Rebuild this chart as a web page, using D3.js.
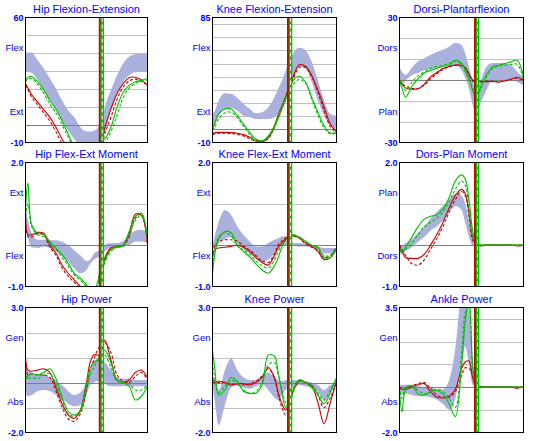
<!DOCTYPE html>
<html><head><meta charset="utf-8">
<script src="https://cdn.jsdelivr.net/npm/d3@7"></script>
<style>body{margin:0;background:#fff}svg{display:block}</style>
</head><body><svg id="c" width="537" height="441"></svg>
<script>
// ---- data: % gait cycle sample points ----
const pct = [0,2,5,10,15,20,25,30,35,40,45,50,53,56,59,62,65,70,75,80,85,90,95,100];
const redToeOff = 60.9;
const greenToeOff = 62.9;

const titles = ["Hip Flexion-Extension","Knee Flexion-Extension","Dorsi-Plantarflexion",
  "Hip Flex-Ext Moment","Knee Flex-Ext Moment","Dors-Plan Moment",
  "Hip Power","Knee Power","Ankle Power"];
const domains = [[-10,60],[-10,85],[-30,30],[-1,2],[-1,2],[-1,2],[-2,3],[-2,3],[-2,3.5]];
const tickLabels = [["-10","60"],["-10","85"],["-30","30"],["-1.0","2.0"],["-1.0","2.0"],["-1.0","2.0"],["-2.0","3.0"],["-2.0","3.0"],["-2.0","3.5"]];
const upperLabels = ["Flex","Flex","Dors","Ext","Ext","Plan","Gen","Gen","Gen"];
const lowerLabels = ["Ext","Ext","Plan","Flex","Flex","Dors","Abs","Abs","Abs"];
const gridValues = [[0,10,20,30,40,50],[0,10,20,30,40,50,60,70,80],[-20,-10,0,10,20],[0,1],[0,1],[0,1],[-1,0,1,2],[-1,0,1,2],[-1,0,1,2,3]];

// Hip flexion-extension (deg)
const hipFlexHi = [40.4,40.4,40.4,36,31.4,25.8,20.1,13.5,7.9,4.1,-1.5,-3.8,-3.8,-3.4,-2,1.3,9.8,19.2,27.6,34.2,38,39.5,39.9,39.9];
const hipFlexLo = [29.9,29.5,29,24.8,19.2,13.5,7.9,2.2,-3.4,-8,-12,-12,-12,-12,-12,-11,-4,7.9,17.3,23.9,27.6,29.3,29.5,29.5];
const hipFlexRed1 = [23,20.5,16.9,12.6,8.4,4.1,-1.5,-8,-13,-16,-17,-17,-16,-15,-14,-11,-2,8.8,17.3,23,26.3,26.5,25,22];
const hipFlexRed2 = [22,19.5,15.5,11,6.5,2,-4,-10.5,-14,-17,-18,-18,-17,-16,-15,-13,-5,4,14,21,24.5,25.5,24,22.5];
const hipFlexGreen1 = [24.8,26.5,27,23.9,19.5,13.5,8.8,2.2,-5.3,-12,-15,-16,-15,-14,-12,-9,-8,-1.5,9.8,18,22,24,24.8,25.8];
const hipFlexGreen2 = [24,25.5,26,22.5,17.5,11.5,6.5,0,-7,-13,-16,-17,-16,-15,-13,-11,-10,-4,5,15,20.5,23,24.5,25];

// Knee flexion-extension (deg)
const kneeFlexHi = [11.7,14.3,21.9,27.5,27,24,19.4,15.5,12.2,13,16.8,24.5,30.9,37.2,44.9,51.3,57.7,62,60.2,51.3,37.2,21.9,11.7,10.4];
const kneeFlexLo = [0.2,4,10.4,15.5,16.3,14.3,10.4,9.2,7.9,7.9,7.9,9.2,11.7,16.8,23.2,30.9,39.8,47.5,46.2,36,21.9,10.4,2.8,0.2];
const kneeFlexRed1 = [-3.6,-2.5,-2.3,-2.3,-2.5,-3,-4,-6,-8.5,-9,-6.5,3,11,18,25,33,40,49,48,41,30,17,4,-2];
const kneeFlexRed2 = [-4,-3.5,-3,-3,-3.2,-3.8,-5,-7,-9,-9.5,-7,2,9,16,23,31,38,47,47,40,28,14,2,-3];
const kneeFlexGreen1 = [0.2,5,11.7,15.5,15.5,10.4,4,-2.3,-7.4,-8.7,-4.9,2.8,10,17,24,30,37,40.3,36,24.5,13,2.8,-2.8,-2.5];
const kneeFlexGreen2 = [-1,2,8,12.5,13,9,2.5,-4,-9,-10,-6,1,8,15,22,28,34,38,35,23,11,1,-3.5,-3];

// Dorsi-plantarflexion (deg)
const dorsiHi = [6.3,4,2.5,6,9,10.5,12,13.5,14.5,16,17.9,16.8,12.7,6.3,-0.2,-5,-1,6.3,8.2,8.2,8,7.1,3.9,1.5];
const dorsiLo = [-2.6,-2,-0.2,2.3,3.5,4.7,5,5.5,6.5,7.1,7.1,4.7,1,-4,-12,-17,-12,-5,-0.2,-0.2,-0.2,0.6,-1,-2.6];
const dorsiRed1 = [-0.2,-2,-3.9,-4.4,-4.2,-2,1.5,3.5,5.5,6.5,7.2,7,6,3,0,-1,-0.8,-0.8,-0.6,-1,-0.5,0.5,1.2,0];
const dorsiRed2 = [0,-1.5,-3,-4,-4,-2.5,0.5,3,5,6.2,7,6.8,5.5,2.5,-0.5,-1.5,-1,-0.5,-0.8,-0.8,-0.3,0.3,1,-0.3];
const dorsiGreen1 = [-0.2,-4,-8.2,-3,0.6,3.4,4.5,5.5,6.5,7.1,9.5,8,5,1,-5,-9,-4.2,2.3,6.3,7.1,7.9,8.7,9.5,1.5];
const dorsiGreen2 = [0,-2,-5,-1,2,4,5.5,6.5,7,8,9,7.5,4,0,-4,-8,-5,1.5,5.5,6.5,7,7.5,7.5,0.5];

// Hip flex-ext moment
const hipMomHi = [0.9,0.6,0.3,0.13,0.13,0.12,0.12,0.08,0,-0.12,-0.25,-0.38,-0.35,-0.2,-0.15,-0.1,0,0.05,0.05,0.1,0.25,0.35,0.37,0.3];
const hipMomLo = [0.5,0.2,-0.05,-0.07,-0.03,-0.07,-0.15,-0.27,-0.4,-0.56,-0.68,-0.6,-0.45,-0.35,-0.3,-0.25,-0.15,-0.07,-0.07,-0.03,0,0.09,0.09,0.05];
const hipMomRed1 = [0.8,0.25,0.25,0.31,0.29,0,-0.19,-0.48,-0.68,-0.84,-1.0,-1.15,-1.2,-1.2,-1.1,-0.8,-0.31,-0.07,-0.03,0,0.29,0.75,0.72,0.05];
const hipMomRed2 = [0.6,0.2,0.2,0.28,0.25,-0.05,-0.25,-0.55,-0.75,-0.9,-1.05,-1.2,-1.25,-1.25,-1.15,-0.9,-0.4,-0.1,-0.05,-0.02,0.2,0.65,0.75,0.0];
const hipMomGreen1 = [0.9,1.5,0.5,0.29,0.25,0.09,-0.07,-0.23,-0.44,-0.68,-0.8,-0.96,-1.1,-1.1,-0.9,-0.5,-0.35,-0.1,-0.03,0,0.33,0.69,0.77,0.17];
const hipMomGreen2 = [0.7,1.0,0.45,0.25,0.2,0.05,-0.1,-0.3,-0.5,-0.72,-0.85,-1.0,-1.15,-1.15,-1.0,-0.6,-0.4,-0.15,-0.05,-0.02,0.25,0.6,0.72,0.2];

// Knee flex-ext moment
const kneeMomHi = [0.0,0.25,0.57,0.85,0.73,0.45,0.25,0.09,-0.03,-0.03,0.05,0.13,0.17,0.21,0.21,0.13,0.05,0.05,0.03,0,-0.03,-0.07,-0.07,-0.07];
const kneeMomLo = [0,-0.1,0.05,0.15,0.2,0.05,-0.1,-0.2,-0.32,-0.4,-0.35,-0.2,-0.1,-0.02,0,0,-0.02,-0.03,-0.03,-0.05,-0.1,-0.2,-0.2,-0.15];
const kneeMomRed1 = [-0.3,-0.1,-0.07,-0.05,-0.03,0,-0.05,-0.15,-0.3,-0.42,-0.48,-0.25,-0.05,0.05,0.15,0.2,0.25,0.17,0.05,-0.03,-0.15,-0.35,-0.3,-0.07];
const kneeMomRed2 = [-0.2,0,0.08,0.13,0.13,0.1,-0.02,-0.12,-0.25,-0.38,-0.42,-0.2,0,0.1,0.18,0.22,0.22,0.17,0.03,-0.05,-0.12,-0.3,-0.25,-0.05];
const kneeMomGreen1 = [-0.7,-0.2,0.15,0.33,0.3,0,-0.15,-0.28,-0.45,-0.6,-0.68,-0.5,-0.3,-0.05,0.12,0.2,0.25,0.2,0.1,0,-0.05,-0.3,-0.3,-0.1];
const kneeMomGreen2 = [-0.5,-0.1,0.2,0.3,0.22,-0.02,-0.12,-0.22,-0.38,-0.5,-0.55,-0.35,-0.15,0,0.12,0.18,0.22,0.18,0.08,0,-0.08,-0.25,-0.25,-0.05];

// Dorsi-plantar moment
const dpMomHi = [0,-0.02,0.05,0.15,0.3,0.45,0.65,0.8,0.95,1.1,1.25,1.2,1.0,0.6,0.15,0.02,0.01,0.01,0.01,0.01,0.01,0.01,0.01,0.01];
const dpMomLo = [-0.2,-0.22,-0.15,-0.05,0.08,0.2,0.35,0.45,0.6,0.8,0.95,0.85,0.55,0.2,0,-0.02,-0.01,-0.01,-0.01,-0.01,-0.01,-0.01,-0.01,-0.01];
const dpMomRed1 = [0,-0.15,-0.3,-0.32,-0.32,-0.22,0,0.25,0.55,0.9,1.2,1.35,1.25,0.8,0.2,0,-0.02,0,0,0,0,0,-0.02,0];
const dpMomRed2 = [0,-0.1,-0.25,-0.45,-0.48,-0.35,-0.1,0.15,0.45,0.8,1.1,1.3,1.2,0.7,0.12,0,0,0,0,0,0,0,0,0];
const dpMomGreen1 = [-0.05,-0.15,-0.05,0.2,0.45,0.63,0.7,0.73,0.87,1.15,1.55,1.7,1.6,1.1,0.35,0,0,0,0,0,0,0,0,0];
const dpMomGreen2 = [-0.1,-0.2,-0.1,0.05,0.25,0.45,0.55,0.65,0.8,1.05,1.35,1.55,1.45,0.9,0.2,0,0,0,0,0,0,0,0,0];

// Hip power
const hipPowHi = [0.5,0.5,0.4,0.3,0.3,0.2,0.05,-0.1,-0.35,-0.5,-0.4,0.0,0.4,0.8,0.95,0.9,0.8,0.5,0.2,0.15,0.15,0.1,0.1,0.1];
const hipPowLo = [-0.4,-0.55,-0.5,-0.35,-0.3,-0.35,-0.5,-0.65,-0.85,-0.95,-0.9,-0.5,-0.1,0.0,0.05,0.05,-0.05,-0.15,-0.15,-0.15,-0.15,-0.15,-0.15,-0.15];
const hipPowRed1 = [1.0,0.5,0.45,0.5,0.55,0.4,-0.2,-0.85,-1.3,-1.43,-1.1,0,0.8,1.1,1.1,1.0,1.7,0.9,0.1,0,0.1,0.4,0.5,0.2];
const hipPowRed2 = [0.8,0.3,0.35,0.3,0.3,0.2,-0.35,-1.0,-1.45,-1.55,-1.25,-0.3,0.5,0.9,1.3,1.5,1.6,1.2,0.3,0.05,0,0.25,0.4,0.1];
const hipPowGreen1 = [0.1,0.25,0.35,0.3,0.4,0.55,0.15,-0.6,-1.15,-1.3,-1.1,-0.1,0.55,0.8,0.9,1.15,1.3,0.8,0.1,0,-0.15,-0.7,-0.55,-0.15];
const hipPowGreen2 = [0.3,0.15,0.2,0.15,0.3,0.35,-0.05,-0.7,-1.25,-1.35,-1.15,-0.3,0.3,0.6,0.85,1.0,1.1,0.6,0.05,0,-0.05,-0.3,-0.3,-0.1];

// Knee power
const kneePowHi = [0.3,0.1,-0.3,0.5,0.95,0.5,0.2,0.1,0.1,0.3,0.4,0.2,0.1,0.05,0.1,0.1,0.1,0.1,0.05,0,-0.1,-0.3,-0.1,0];
const kneePowLo = [-0.1,-0.8,-1.7,-0.9,-0.2,-0.1,-0.2,-0.25,-0.15,-0.05,-0.3,-0.6,-0.7,-0.5,-0.3,-0.2,-0.2,-0.1,-0.15,-0.2,-0.35,-0.7,-0.4,-0.1];
const kneePowRed1 = [0,0,0.05,0,-0.1,-0.05,-0.05,-0.1,0,0.2,0.6,0.2,-0.4,-0.85,-1.1,-0.8,-0.35,0.05,0,-0.15,-0.8,-1.65,-0.8,0.05];
const kneePowRed2 = [0.1,0.05,0,0,-0.05,-0.1,-0.1,-0.05,0.05,0.25,0.55,0.15,-0.5,-1.0,-1.3,-1.0,-0.3,0.1,0,-0.1,-0.5,-1.0,-0.6,0];
const kneePowGreen1 = [1.3,0.5,-0.5,-0.3,0.2,0.05,-0.35,-0.43,-0.43,-0.1,1.1,1.05,0.4,-0.4,-1.0,-0.7,-0.3,0.1,0,-0.2,-0.5,-0.85,-0.4,0.2];
const kneePowGreen2 = [0.8,0.1,-0.4,-0.15,0.1,-0.05,-0.3,-0.45,-0.35,0.0,0.7,0.8,0.3,-0.3,-0.8,-0.9,-0.4,0.05,0,-0.1,-0.4,-0.7,-0.3,0.15];

// Ankle power
const ankPowHi = [0.1,0.1,0.1,0.1,0.05,0,0,-0.1,-0.1,0.3,1.7,4.0,4.0,3.6,1.0,0.02,0.02,0.02,0.02,0.02,0.02,0.02,0.02,0.02];
const ankPowLo = [-0.2,-0.3,-0.3,-0.35,-0.4,-0.4,-0.45,-0.55,-0.75,-1.0,-0.5,1.0,1.8,1.0,0.1,-0.02,-0.02,-0.02,-0.02,-0.02,-0.02,-0.02,-0.02,-0.02];
const ankPowRed1 = [-0.05,-0.1,-0.1,0,0.1,0.15,-0.2,-0.45,-0.48,-0.4,-0.1,0.8,1.1,1.15,0.4,0,0.02,0,0,0,0,0,-0.05,0];
const ankPowRed2 = [0,-0.05,-0.05,0.05,0.15,0.2,-0.05,-0.35,-0.45,-0.45,-0.2,0.5,0.85,0.8,0.7,0,0,0,0,0,0,0,0,0];
const ankPowGreen1 = [-0.1,-1.1,-0.1,0.05,-0.3,-0.35,-0.2,-0.15,-0.3,-0.75,-1.3,0.9,2.9,3.9,1.0,-0.05,0,0,0,0,0,0,0,0];
const ankPowGreen2 = [0,-0.5,0,0.05,-0.15,-0.3,-0.25,-0.1,-0.2,-0.5,-0.9,1.4,3.3,3.7,0.8,0,0,0,0,0,0,0,0,0];

// table built from the arrays above
const bandsLo = [hipFlexLo,kneeFlexLo,dorsiLo,hipMomLo,kneeMomLo,dpMomLo,hipPowLo,kneePowLo,ankPowLo];
const bandsHi = [hipFlexHi,kneeFlexHi,dorsiHi,hipMomHi,kneeMomHi,dpMomHi,hipPowHi,kneePowHi,ankPowHi];
const reds = [[hipFlexRed1,hipFlexRed2],[kneeFlexRed1,kneeFlexRed2],[dorsiRed1,dorsiRed2],[hipMomRed1,hipMomRed2],[kneeMomRed1,kneeMomRed2],[dpMomRed1,dpMomRed2],[hipPowRed1,hipPowRed2],[kneePowRed1,kneePowRed2],[ankPowRed1,ankPowRed2]];
const greens = [[hipFlexGreen1,hipFlexGreen2],[kneeFlexGreen1,kneeFlexGreen2],[dorsiGreen1,dorsiGreen2],[hipMomGreen1,hipMomGreen2],[kneeMomGreen1,kneeMomGreen2],[dpMomGreen1,dpMomGreen2],[hipPowGreen1,hipPowGreen2],[kneePowGreen1,kneePowGreen2],[ankPowGreen1,ankPowGreen2]];

// ---- layout ----
const colX = [[25.5,147.5],[212.5,336.5],[399.5,523.5]];
const rowY = [[17.5,142.5],[162.5,286.5],[307.5,432.5]];
const BLUE = "#0000ff", RED = "#c80000", GREEN = "#00c000", BAND = "#aab1dc";
const FONT = "'Liberation Sans', Arial, sans-serif";

const svg = d3.select("#c");
const defs = svg.append("defs");

titles.forEach((title, i) => {
  const [x0, x1] = colX[i % 3];
  const [y0, y1] = rowY[Math.floor(i / 3)];
  const x = d3.scaleLinear().domain([0, 100]).range([x0, x1]);
  const y = d3.scaleLinear().domain(domains[i]).range([y1, y0]);
  const g = svg.append("g");

  defs.append("clipPath").attr("id", "clip" + i)
    .append("rect").attr("x", x0).attr("y", y0).attr("width", x1 - x0).attr("height", y1 - y0);
  const inner = g.append("g").attr("clip-path", `url(#clip${i})`);

  // light gridlines
  inner.selectAll("line.grid").data(gridValues[i].filter(v => v !== 0)).join("line")
    .attr("x1", x0).attr("x2", x1)
    .attr("y1", d => Math.round(y(d)) + 0.5).attr("y2", d => Math.round(y(d)) + 0.5)
    .attr("stroke", "#c0c0c0").attr("stroke-width", 1);

  // normal band
  const bandData = pct.map((p, j) => ({ p, lo: bandsLo[i][j], hi: bandsHi[i][j] }));
  inner.append("path").datum(bandData)
    .attr("d", d3.area().x(d => x(d.p)).y0(d => y(d.lo)).y1(d => y(d.hi)).curve(d3.curveMonotoneX))
    .attr("fill", BAND);

  // zero line
  inner.append("line").attr("x1", x0).attr("x2", x1)
    .attr("y1", Math.round(y(0)) + 0.5).attr("y2", Math.round(y(0)) + 0.5)
    .attr("stroke", "#808080").attr("stroke-width", 1);

  const line = d3.line().x(d => x(d.p)).y(d => y(d.v)).curve(d3.curveCatmullRom.alpha(0.5));
  const series = [
    { vals: reds[i][0], color: RED, dash: null },
    { vals: reds[i][1], color: RED, dash: "3,2" },
    { vals: greens[i][0], color: GREEN, dash: null },
    { vals: greens[i][1], color: GREEN, dash: "3,2" }
  ];
  series.forEach(s => {
    inner.append("path").datum(pct.map((p, j) => ({ p, v: s.vals[j] })))
      .attr("d", line).attr("fill", "none")
      .attr("stroke", s.color).attr("stroke-width", 1.1)
      .attr("stroke-dasharray", s.dash);
  });

  // toe-off markers
  inner.append("line").attr("x1", x(redToeOff)).attr("x2", x(redToeOff))
    .attr("y1", y0).attr("y2", y1).attr("stroke", RED).attr("stroke-width", 2);
  inner.append("rect").attr("x", x(greenToeOff) - 1.75).attr("width", 3.5)
    .attr("y", y0).attr("height", y1 - y0).attr("fill", GREEN);
  inner.append("line").attr("x1", x(greenToeOff)).attr("x2", x(greenToeOff))
    .attr("y1", y0).attr("y2", y1).attr("stroke", "#fff").attr("stroke-width", 1)
    .attr("stroke-dasharray", "4,3");

  // box
  g.append("rect").attr("x", x0).attr("y", y0).attr("width", x1 - x0).attr("height", y1 - y0)
    .attr("fill", "none").attr("stroke", "#000").attr("stroke-width", 1);

  // axis: top and bottom values
  const ax = g.append("g").attr("transform", `translate(${x0},0)`)
    .call(d3.axisLeft(y).tickValues(domains[i]).tickSize(0).tickPadding(2)
      .tickFormat((d, k) => tickLabels[i][k]));
  ax.select(".domain").remove();
  ax.selectAll("text").attr("fill", BLUE).style("font-family", FONT)
    .style("font-size", "9px").style("font-weight", "bold");

  // direction labels
  g.append("text").attr("x", x0 - 2).attr("y", y0 + 0.245 * (y1 - y0)).attr("dy", "0.35em")
    .attr("text-anchor", "end").attr("fill", BLUE)
    .style("font-family", FONT).style("font-size", "9.5px").text(upperLabels[i]);
  g.append("text").attr("x", x0 - 2).attr("y", y0 + 0.755 * (y1 - y0)).attr("dy", "0.35em")
    .attr("text-anchor", "end").attr("fill", BLUE)
    .style("font-family", FONT).style("font-size", "9.5px").text(lowerLabels[i]);

  // title
  g.append("text").attr("x", (x0 + x1) / 2).attr("y", y0 - 5)
    .attr("text-anchor", "middle").attr("fill", BLUE)
    .style("font-family", FONT).style("font-size", "11px").text(title);
});
</script>
</body></html>
